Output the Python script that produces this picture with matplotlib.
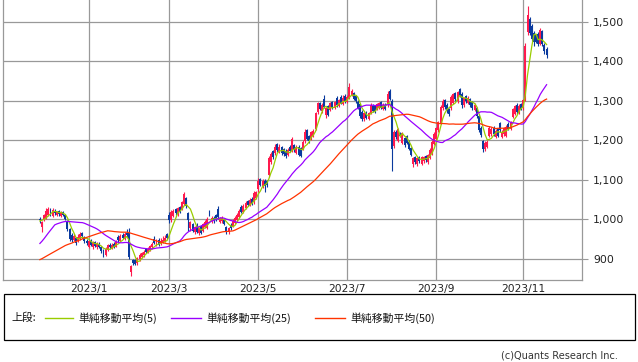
import numpy as np
import pandas as pd
import matplotlib
matplotlib.use("Agg")
import matplotlib.pyplot as plt
from matplotlib.lines import Line2D
from matplotlib.patches import Rectangle

# ---------------- data (daily OHLC, 2022/11/30 - 2023/11/17) ----------------
holidays = ['2023-01-02', '2023-01-03', '2023-01-09', '2023-02-23', '2023-03-21',
            '2023-05-03', '2023-05-04', '2023-05-05', '2023-07-17', '2023-08-11',
            '2023-09-18', '2023-10-09', '2023-11-03']

# closes before the visible window (only needed for the moving averages)
prior_closes = [868, 862, 866, 870, 864, 860, 866, 872, 868, 862, 858, 864, 866,
                856, 850, 846, 852, 848, 844, 850, 854, 848, 842, 846, 852, 850, 846, 842, 848, 852, 850, 846,
                955, 968, 975, 972, 978,
                970, 962, 958, 966, 960, 968, 972, 964,
                985, 998, 1004, 996]

opens = [
    1002, 982, 998, 1005, 1012, 1026, 1010, 1022, 1012, 1020, 1010, 1018, 1010, 995, 975, 960, 948, 952, 945, 952, 965, 955, 946,
    932, 945, 930, 942, 930, 938, 930, 922, 910, 922, 936, 928, 938, 932, 955, 945, 960, 952, 966,
    968, 868, 898, 896, 890, 900, 906, 910, 924, 918, 924, 930, 950, 938, 948, 940, 944, 946, 962,
    1012, 998, 1010, 1026, 1014, 1030, 1028, 1040, 1054, 1016, 978, 988, 968, 986, 966, 982, 972, 982, 980, 1018, 996, 1004,
    1010, 1026, 994, 996, 998, 980, 968, 986, 984, 992, 1000, 1008, 1030, 1020, 1030, 1046, 1038, 1052, 1044, 1056,
    1078, 1102, 1086, 1098, 1096, 1112, 1146, 1172, 1168, 1190, 1172, 1182, 1178, 1174, 1164, 1184, 1174, 1188, 1170, 1184,
    1180, 1180, 1198, 1226, 1210, 1206, 1212, 1230, 1272, 1294, 1274, 1304, 1264, 1286, 1278, 1296, 1284, 1306, 1288, 1310, 1294, 1312,
    1298, 1308, 1316, 1320, 1312, 1298, 1292, 1272, 1254, 1270, 1256, 1270, 1288, 1286, 1280, 1284, 1296, 1280, 1290, 1290,
    1326, 1300, 1186, 1222, 1200, 1218, 1194, 1206, 1210, 1196, 1180, 1140, 1158, 1140, 1158, 1142, 1148, 1160, 1146, 1156, 1168, 1192,
    1204, 1226, 1246, 1282, 1302, 1290, 1278, 1282, 1296, 1320, 1300, 1330, 1318, 1290, 1312, 1296, 1304, 1296, 1278, 1282,
    1262, 1232, 1198, 1178, 1184, 1212, 1216, 1232, 1210, 1228, 1244, 1210, 1216, 1212, 1242, 1230, 1260, 1268, 1290, 1272, 1292,
    1282, 1304, 1476, 1506, 1490, 1472, 1466, 1470, 1446, 1476, 1442, 1432,
]
highs = [
    1006, 996, 1015, 1030, 1032, 1030, 1028, 1026, 1022, 1024, 1022, 1022, 1014, 998, 978, 965, 962, 955, 962, 968, 968, 958, 950,
    948, 950, 945, 946, 942, 942, 934, 925, 930, 938, 940, 940, 942, 948, 960, 962, 965, 968, 975,
    978, 886, 900, 900, 905, 914, 918, 922, 928, 930, 936, 942, 958, 950, 952, 952, 958, 960, 966,
    1020, 1024, 1026, 1030, 1032, 1034, 1048, 1070, 1058, 1020, 996, 992, 984, 990, 982, 986, 992, 998, 1006, 1024, 1008, 1008,
    1014, 1034, 1006, 1008, 1002, 984, 982, 990, 1000, 1008, 1016, 1026, 1036, 1038, 1046, 1050, 1054, 1056, 1072, 1072,
    1106, 1106, 1102, 1102, 1100, 1162, 1172, 1176, 1190, 1194, 1190, 1186, 1182, 1178, 1180, 1188, 1210, 1192, 1188, 1188,
    1184, 1200, 1228, 1230, 1214, 1224, 1228, 1272, 1298, 1298, 1294, 1314, 1286, 1290, 1298, 1300, 1300, 1312, 1306, 1316, 1314, 1318,
    1314, 1345, 1330, 1324, 1316, 1302, 1296, 1276, 1272, 1274, 1272, 1294, 1292, 1290, 1296, 1298, 1300, 1294, 1294, 1326,
    1330, 1304, 1226, 1226, 1232, 1222, 1222, 1210, 1214, 1200, 1184, 1158, 1162, 1158, 1162, 1162, 1162, 1164, 1166, 1180, 1200, 1222,
    1234, 1250, 1290, 1304, 1306, 1294, 1282, 1316, 1320, 1324, 1326, 1334, 1322, 1310, 1316, 1312, 1308, 1300, 1294, 1286,
    1266, 1236, 1202, 1198, 1200, 1236, 1234, 1236, 1228, 1232, 1248, 1226, 1234, 1238, 1246, 1250, 1282, 1290, 1294, 1292, 1296,
    1306, 1446, 1540, 1512, 1494, 1476, 1470, 1474, 1484, 1480, 1446, 1436,
]
lows = [
    990, 968, 995, 1002, 1008, 1010, 1006, 1012, 1008, 1010, 1006, 1008, 998, 972, 945, 942, 945, 935, 942, 948, 952, 940, 935,
    928, 932, 926, 930, 926, 928, 915, 905, 908, 920, 926, 925, 928, 930, 942, 942, 950, 948, 955,
    900, 858, 886, 885, 886, 896, 902, 906, 914, 914, 920, 926, 938, 934, 934, 936, 940, 942, 950,
    992, 994, 1006, 1012, 1010, 1016, 1024, 1036, 1030, 972, 972, 968, 962, 966, 960, 962, 968, 978, 976, 1008, 990, 992,
    996, 1002, 990, 992, 986, 964, 964, 974, 980, 988, 996, 1004, 1016, 1016, 1026, 1034, 1034, 1036, 1040, 1052,
    1070, 1084, 1080, 1070, 1082, 1108, 1140, 1152, 1164, 1172, 1168, 1164, 1160, 1156, 1160, 1170, 1170, 1172, 1166, 1160,
    1158, 1176, 1194, 1200, 1194, 1202, 1208, 1226, 1268, 1276, 1270, 1282, 1258, 1262, 1274, 1280, 1280, 1286, 1284, 1292, 1290, 1294,
    1294, 1304, 1312, 1302, 1296, 1280, 1258, 1250, 1250, 1254, 1252, 1266, 1272, 1270, 1276, 1280, 1280, 1276, 1276, 1286,
    1302, 1124, 1180, 1204, 1196, 1208, 1190, 1184, 1190, 1176, 1160, 1134, 1140, 1136, 1144, 1138, 1144, 1146, 1140, 1152, 1164, 1188,
    1200, 1222, 1242, 1276, 1280, 1270, 1262, 1278, 1292, 1300, 1296, 1310, 1282, 1286, 1296, 1292, 1286, 1278, 1274, 1258,
    1222, 1210, 1170, 1174, 1180, 1208, 1212, 1212, 1206, 1208, 1222, 1206, 1212, 1208, 1226, 1226, 1256, 1264, 1268, 1268, 1276,
    1278, 1300, 1468, 1466, 1452, 1440, 1446, 1438, 1442, 1440, 1420, 1410,
]
closes = [
    998, 994, 1010, 1022, 1026, 1015, 1024, 1016, 1018, 1014, 1018, 1012, 1002, 976, 950, 948, 958, 940, 956, 964, 958, 945, 940,
    945, 936, 940, 934, 938, 932, 920, 912, 925, 935, 930, 936, 932, 945, 948, 958, 953, 964, 960,
    905, 882, 890, 889, 902, 910, 914, 918, 918, 926, 932, 938, 940, 942, 936, 944, 948, 952, 954,
    998, 1018, 1022, 1016, 1028, 1020, 1044, 1064, 1034, 998, 992, 972, 980, 970, 978, 966, 988, 994, 1002, 1010, 1004, 996,
    998, 1006, 1002, 1004, 990, 968, 978, 978, 996, 1004, 1012, 1022, 1020, 1034, 1042, 1038, 1050, 1040, 1066, 1068,
    1098, 1088, 1096, 1086, 1088, 1156, 1166, 1158, 1184, 1176, 1184, 1168, 1166, 1160, 1176, 1174, 1204, 1176, 1184, 1164,
    1162, 1196, 1222, 1204, 1198, 1220, 1224, 1268, 1294, 1280, 1290, 1286, 1282, 1266, 1294, 1284, 1298, 1290, 1302, 1296, 1308, 1298,
    1310, 1334, 1324, 1306, 1300, 1284, 1262, 1256, 1268, 1258, 1268, 1290, 1276, 1274, 1292, 1294, 1284, 1290, 1280, 1318,
    1306, 1178, 1222, 1210, 1228, 1212, 1218, 1188, 1194, 1180, 1164, 1154, 1146, 1154, 1148, 1158, 1158, 1150, 1162, 1176, 1196, 1216,
    1230, 1246, 1284, 1300, 1286, 1276, 1268, 1310, 1316, 1306, 1322, 1316, 1290, 1306, 1300, 1308, 1290, 1282, 1290, 1262,
    1226, 1214, 1178, 1194, 1196, 1232, 1228, 1216, 1224, 1212, 1226, 1222, 1230, 1234, 1230, 1246, 1278, 1286, 1272, 1288, 1280,
    1302, 1440, 1518, 1472, 1458, 1450, 1450, 1446, 1478, 1446, 1426, 1418,
]

tick_months = [1, 3, 5, 7, 9, 11]
tick_labels = ['2023/1', '2023/3', '2023/5', '2023/7', '2023/9', '2023/11']
ma_periods = [5, 25, 50]
ma_labels = ['単純移動平均(5)', '単純移動平均(25)', '単純移動平均(50)']
ma_colors = ['#99cc00', '#9900ff', '#ff3300']
y_ticks = [900, 1000, 1100, 1200, 1300, 1400, 1500]

# ---------------- figure ----------------
plt.rcParams['font.family'] = ['DejaVu Sans']
W, H = 638, 362
fig = plt.figure(figsize=(W / 100, H / 100), dpi=100)
fig.patch.set_facecolor('white')

ax = fig.add_axes([3 / W, 82 / H, 579 / W, 280 / H])
dates = pd.bdate_range('2022-11-30', '2023-11-17')
dates = dates[~dates.isin(pd.to_datetime(holidays))]
n = len(closes)
x = np.arange(n)

o = np.array(opens, float)
h = np.array(highs, float)
l = np.array(lows, float)
c = np.array(closes, float)
up = c >= o
red, blue = '#ff1a4d', '#0a3a9e'
cols = np.where(up, red, blue)

ax.vlines(x, l, h, colors=cols, linewidth=0.8, zorder=3)
ax.bar(x, np.abs(c - o) + 1.0, bottom=np.minimum(o, c) - 0.5, width=0.92,
       color=cols, linewidth=0, zorder=3)

allc = pd.Series(list(prior_closes) + list(closes), dtype=float)
for p, col in zip(ma_periods, ma_colors):
    ma = allc.rolling(p).mean().values[-n:]
    ax.plot(x, ma, color=col, linewidth=0.9, zorder=4)

ax.set_xlim(-17.4, 255.7)
ax.set_ylim(846.8, 1555.7)

tick_pos = []
for m in tick_months:
    idx = np.where((dates.year == 2023) & (dates.month == m))[0][0]
    tick_pos.append(idx)
ax.set_xticks(tick_pos)
ax.set_xticklabels(tick_labels)
ax.set_yticks(y_ticks)
ax.set_yticklabels([f'{v:,}' for v in y_ticks])
ax.yaxis.tick_right()
ax.tick_params(axis='x', length=0, pad=3, labelsize=7.7, colors='#222222')
ax.tick_params(axis='y', length=4, width=0.8, color='#999999', pad=4, labelsize=7.8, labelcolor='#222222')
ax.grid(True, color='#999999', linewidth=0.9, zorder=0)
ax.set_axisbelow(True)
for s in ['left', 'right', 'bottom']:
    ax.spines[s].set_color('#999999')
    ax.spines[s].set_linewidth(0.9)
ax.spines['top'].set_visible(False)

# ---------------- legend box ----------------
def fx(px):
    return px / W

def fy(py):
    return 1 - py / H

fig.add_artist(Rectangle((fx(3.5), fy(340)), fx(631), 46 / H, transform=fig.transFigure,
                         fill=False, edgecolor='black', linewidth=0.9))
jp = ['Noto Sans CJK JP', 'DejaVu Sans']
ly = fy(318)
fig.text(fx(11), ly, '上段:', family=jp, fontsize=7.8, va='center', ha='left', color='#111111')
line_x = [(45, 73), (171, 201), (315, 345)]
text_x = [78, 206, 350]
for (a, b), tx, lab, col in zip(line_x, text_x, ma_labels, ma_colors):
    fig.add_artist(Line2D([fx(a), fx(b)], [ly, ly], transform=fig.transFigure, color=col, linewidth=1.0))
    fig.text(fx(tx), ly, lab, family=jp, fontsize=7.8, va='center', ha='left', color='#111111')

fig.text(fx(618), fy(356), '(c)Quants Research Inc.', fontsize=7, va='center', ha='right', color='#333333')

fig.savefig('out.png', dpi=100, facecolor='white')
